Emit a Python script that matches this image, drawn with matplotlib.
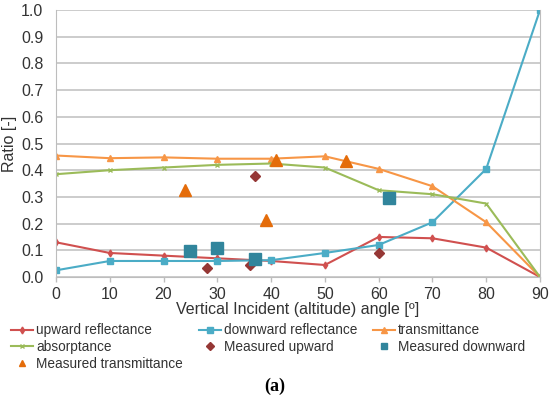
import matplotlib.pyplot as plt
from matplotlib.lines import Line2D
import numpy as np

# Datos
angulo = [0, 10, 20, 30, 40, 50, 60, 70, 80, 90]
upward = [0.13, 0.09, 0.08, 0.07, 0.06, 0.045, 0.15, 0.145, 0.11, 0.0]
downward = [0.025, 0.06, 0.06, 0.06, 0.063, 0.09, 0.12, 0.205, 0.405, 1.0]
transm = [0.455, 0.445, 0.448, 0.443, 0.443, 0.452, 0.405, 0.34, 0.205, 0.0]
absorp = [0.385, 0.40, 0.41, 0.42, 0.425, 0.41, 0.325, 0.31, 0.275, 0.0]

med_up_x = [28, 36, 37, 60]
med_up_y = [0.035, 0.045, 0.38, 0.09]
med_down_x = [25, 30, 37, 62]
med_down_y = [0.098, 0.11, 0.068, 0.297]
med_tr_x = [24, 39, 41, 54]
med_tr_y = [0.325, 0.215, 0.44, 0.436]

plt.rcParams['font.family'] = ['Liberation Sans', 'DejaVu Sans']

fig = plt.figure(figsize=(5.5, 3.97), dpi=100)
ax = fig.add_axes([56/550, 1 - 277/397, 484/550, 267/397])

c_up, c_down, c_tr, c_ab = '#d0504f', '#4bacc6', '#f79646', '#9bbb59'
c_mup, c_mdown, c_mtr = '#953735', '#31859c', '#e46c0a'

ax.plot(angulo, upward, color=c_up, lw=1.5, marker='d', ms=3.5)
ax.plot(angulo, downward, color=c_down, lw=1.5, marker='s', ms=4)
ax.plot(angulo, transm, color=c_tr, lw=1.5, marker='^', ms=4)
ax.plot(angulo, absorp, color=c_ab, lw=1.5, marker='x', ms=3.5, mew=1)
ax.plot(med_up_x, med_up_y, ls='none', color=c_mup, marker='D', ms=5.5)
ax.plot(med_down_x, med_down_y, ls='none', color=c_mdown, marker='s', ms=8)
ax.plot(med_tr_x, med_tr_y, ls='none', color=c_mtr, marker='^', ms=8)

ax.set_xlim(0, 90)
ax.set_ylim(0, 1.0)
ax.set_xticks(range(0, 91, 10))
ax.set_yticks(np.arange(0, 1.01, 0.1))
ax.set_yticklabels(['%.1f' % v for v in np.arange(0, 1.01, 0.1)])
ax.grid(True, axis='y', color='#c4c4c4', lw=1.2)
ax.set_axisbelow(True)
for s in ['left', 'right', 'bottom']:
    ax.spines[s].set_color('#bdbdbd')
ax.spines['top'].set_visible(False)
ax.tick_params(axis='y', length=0, labelsize=11.5, colors='#333333', pad=9)
ax.tick_params(axis='x', length=3.5, width=1, color='#bdbdbd', labelsize=11.5,
               labelcolor='#333333', pad=4)
ax.set_xlabel('Vertical Incident (altitude) angle [º]', fontsize=11.5, color='#333333', labelpad=0)
ax.set_ylabel('Ratio [-]', fontsize=11.5, color='#333333', labelpad=3)

# leyenda con marcadores chicos, orden por columnas
h = [Line2D([], [], color=c_up, lw=1.5, marker='d', ms=3.5, label='upward reflectance'),
     Line2D([], [], color=c_ab, lw=1.5, marker='x', ms=3.5, mew=1, label='absorptance'),
     Line2D([], [], color=c_mtr, ls='none', marker='^', ms=5, label='Measured transmittance'),
     Line2D([], [], color=c_down, lw=1.5, marker='s', ms=4, label='downward reflectance'),
     Line2D([], [], color=c_mup, ls='none', marker='D', ms=4, label='Measured upward'),
     Line2D([], [], color=c_tr, lw=1.5, marker='^', ms=4, label='transmittance'),
     Line2D([], [], color=c_mdown, ls='none', marker='s', ms=5, label='Measured downward')]
fig.legend(handles=h, ncol=3, loc='upper left', bbox_to_anchor=(6/550, 1 - 318/397),
           frameon=False, fontsize=9.8, handlelength=1.6, handletextpad=0.2,
           columnspacing=1.2, labelspacing=0.2, borderaxespad=0, labelcolor='#333333')

fig.text(0.5, 1 - 386/397, '(a)', ha='center', va='center', fontsize=13,
         family='Liberation Serif', fontweight='bold')

plt.savefig('out.png')
